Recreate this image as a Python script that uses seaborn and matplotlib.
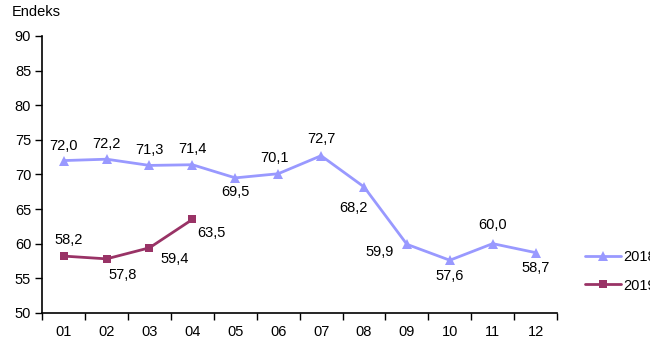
import numpy as np
import pandas as pd
import matplotlib
matplotlib.use('Agg')
import matplotlib.pyplot as plt
import seaborn as sns

# data
months = ['01', '02', '03', '04', '05', '06', '07', '08', '09', '10', '11', '12']
vals_2018 = [72.0, 72.2, 71.3, 71.4, 69.5, 70.1, 72.7, 68.2, 59.9, 57.6, 60.0, 58.7]
vals_2019 = [58.2, 57.8, 59.4, 63.5]
yticks = [50, 55, 60, 65, 70, 75, 80, 85, 90]

# label offsets in pixels (dx, dy) for each point
off_2018 = [(0, 15), (0, 15), (0, 15), (0, 16), (0, -14), (-4, 16), (0, 17),
            (-11, -21), (-27, -8), (0, -16), (0, 19), (0, -15)]
off_2019 = [(5, 16), (16, -16), (25, -11), (19, -14)]

sns.set_theme(style='white')
plt.rcParams['font.family'] = ['Liberation Sans', 'DejaVu Sans']
plt.rcParams['text.color'] = 'black'
plt.rcParams['xtick.color'] = 'black'
plt.rcParams['ytick.color'] = 'black'

df = pd.concat([
    pd.DataFrame({'pos': np.arange(len(vals_2018)), 'val': vals_2018, 'year': '2018'}),
    pd.DataFrame({'pos': np.arange(len(vals_2019)), 'val': vals_2019, 'year': '2019'}),
])

fig = plt.figure(figsize=(6.5, 3.6), dpi=100)
ax = fig.add_axes([0.065, 0.131, 0.792, 0.769])

colors = {'2018': '#9999ff', '2019': '#993366'}
sns.lineplot(data=df, x='pos', y='val', hue='year', style='year',
             markers={'2018': '^', '2019': 's'}, dashes=False,
             palette=colors, linewidth=2, markersize=6.5, markeredgewidth=0,
             ax=ax, legend=False)
# squares look a bit smaller in the reference
for ln in ax.lines:
    if ln.get_marker() == 's':
        ln.set_markersize(5.5)

for i, v in enumerate(vals_2018):
    ax.annotate(f'{v:.1f}'.replace('.', ','), (i, v), xytext=off_2018[i],
                textcoords='offset pixels', ha='center', va='center', fontsize=10.5)
for i, v in enumerate(vals_2019):
    ax.annotate(f'{v:.1f}'.replace('.', ','), (i, v), xytext=off_2019[i],
                textcoords='offset pixels', ha='center', va='center', fontsize=10.5)

ax.set_xlim(-0.5, len(months) - 0.5)
ax.set_ylim(50, 90)
ax.set_yticks(yticks)
ax.set_yticklabels([str(t) for t in yticks], fontsize=10.5)
ax.set_xticks(np.arange(len(months)))
ax.set_xticklabels(months, fontsize=10.5)
ax.set_xticks(np.arange(len(months) + 1) - 0.5, minor=True)
ax.tick_params(axis='x', which='major', length=0, pad=9)
ax.tick_params(axis='x', which='minor', length=5, width=1, color='black', direction='out', bottom=True)
ax.tick_params(axis='y', length=5, width=1, color='black', direction='out', left=True, pad=3)
ax.set_xlabel('')
ax.set_ylabel('')
ax.spines['top'].set_visible(False)
ax.spines['right'].set_visible(False)
ax.spines['left'].set_color('black')
ax.spines['bottom'].set_color('black')
ax.spines['left'].set_linewidth(1.2)
ax.spines['bottom'].set_linewidth(1.2)

fig.text(12 / 650, 1 - 12 / 360, 'Endeks', fontsize=10.5, va='center', ha='left')

h1 = plt.Line2D([], [], color=colors['2018'], marker='^', lw=2, ms=6.5, mew=0)
h2 = plt.Line2D([], [], color=colors['2019'], marker='s', lw=2, ms=5.5, mew=0)
fig.legend([h1, h2], ['2018', '2019'], loc='upper left', bbox_to_anchor=(585 / 650, 1 - 250 / 360),
           frameon=False, borderpad=0, borderaxespad=0, handlelength=2.5, handletextpad=0.15,
           labelspacing=1.0, fontsize=10.5)

fig.savefig('out.png', dpi=100)
plt.close()
